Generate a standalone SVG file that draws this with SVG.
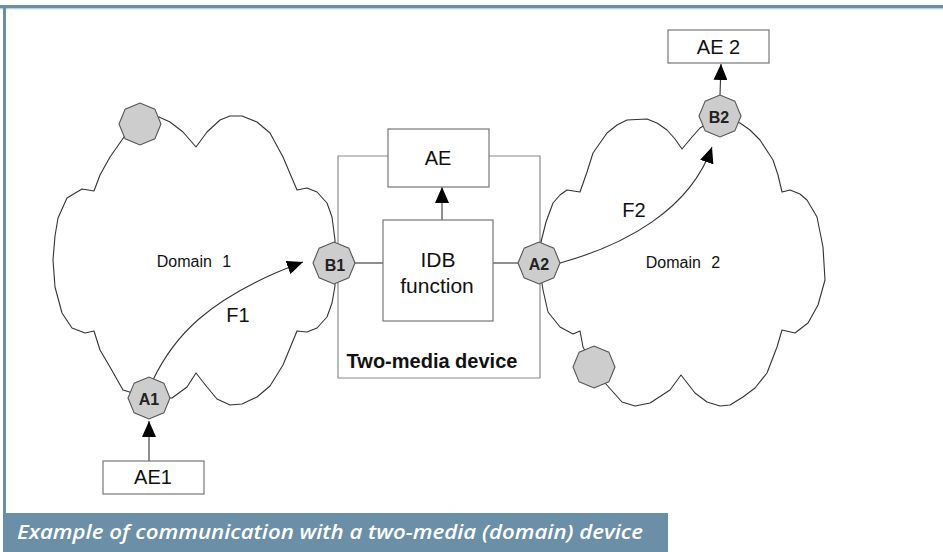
<svg xmlns="http://www.w3.org/2000/svg" xmlns:xlink="http://www.w3.org/1999/xlink" width="943" height="552" viewBox="0 0 943 552">
  <style>
    .cloud { fill: none; stroke: #333; stroke-width: 1.1; stroke-linejoin: round; }
    .frame { fill: none; stroke: #8a8a8a; stroke-width: 1.2; }
    .box { fill: #fff; stroke: #777; stroke-width: 1.2; }
    .link { fill: none; stroke: #333; stroke-width: 1.1; }
    .port { fill: #cdcdcd; stroke: #555; stroke-width: 1.1; }
    .lbl { font-family: "Liberation Sans", Arial, sans-serif; fill: #111; text-anchor: middle; }
    .big { font-size: 20px; }
    .dom { font-size: 16px; word-spacing: 6px; }
    .portlbl { font-size: 16px; font-weight: bold; fill: #222; }
    .caption { font-family: "Open Sans", "Liberation Sans", sans-serif; font-style: italic; font-weight: 600; font-size: 20px; fill: #fff; }
  </style>
  <defs>
    <marker id="arrow" markerUnits="userSpaceOnUse" markerWidth="17" markerHeight="14" refX="16" refY="7" orient="auto">
      <path d="M0,0 L16,7 L0,14 Z" fill="#000"/>
    </marker>
    <polygon id="oct" points="21,0 14.85,14.85 0,21 -14.85,14.85 -21,0 -14.85,-14.85 0,-21 14.85,-14.85"/>
  </defs>

  <rect width="943" height="552" fill="#fff"/>

  <!-- page frame -->
  <rect x="0" y="5" width="943" height="3.3" fill="#6b8fa6"/>
  <rect x="0" y="8.3" width="943" height="1" fill="#b9cad6"/>
  <rect x="3" y="5" width="3" height="547" fill="#6b8fa6"/>

  <!-- two-media device enclosure -->
  <g id="device">
    <path class="frame" d="M388,156 H338 V378 H540 V156 H489"/>
    <text class="lbl" x="432" y="368" font-size="20" font-weight="bold">Two-media device</text>
  </g>

  <!-- domain clouds -->
  <g id="domain1">
    <path class="cloud" d="M94,191 L100,175 L110,157 L124,137 L140,124 L159,117 L170,122 L183,132 L196,147 L207,132 L220,120 L230,116 L242,116 L257,122 L270,133 L283,157 L297,190 L307,188 L317,192 L327,203 L332,217 L335,240 L334,263 L335,286 L332,303 L327,317 L317,328 L307,332 L297,331 L283,365 L270,386 L257,397 L242,404 L230,405 L217,399 L207,387 L196,373 L187,387 L172,398 L149,398 L123,390 L110,367 L100,350 L94,331 L85,333 L72,328 L62,313 L55,287 L53,260 L55,236 L58,218 L67,198 L82,189 Z"/>
    <text class="lbl dom" x="194" y="267">Domain 1</text>
  </g>
  <g id="domain2">
    <path class="cloud" d="M539,263 L541,242 L546,222 L553,203 L560,195 L567,190 L580,192 L587,172 L593,153 L607,133 L617,125 L627,120 L647,119 L657,123 L667,130 L675,139 L682,149 L692,137 L700,128 L720,116 L740,123 L750,130 L760,140 L773,160 L778,175 L782,192 L790,190 L800,194 L807,200 L817,217 L823,247 L825,280 L818,305 L808,323 L795,333 L782,330 L777,347 L767,373 L755,388 L743,397 L730,405 L720,406 L707,402 L695,393 L681,375 L670,390 L650,403 L635,406 L622,402 L605,383 L594,367 L583,347 L580,331 L573,334 L560,327 L548,312 L543,290 Z"/>
    <text class="lbl dom" x="683" y="268">Domain 2</text>
  </g>

  <!-- connectors -->
  <g id="connectors">
    <line class="link" x1="355" y1="263" x2="383" y2="263"/>
    <line class="link" x1="493" y1="263" x2="518" y2="263"/>
    <line class="link" x1="442" y1="220" x2="442" y2="187" marker-end="url(#arrow)"/>
    <line class="link" x1="149" y1="461" x2="149" y2="421" marker-end="url(#arrow)"/>
    <line class="link" x1="720" y1="95" x2="721" y2="64" marker-end="url(#arrow)"/>
    <path class="link" d="M153,380 C172,340 205,298 303,262" marker-end="url(#arrow)"/>
    <path class="link" d="M560,263 C625,245 690,210 712,147" marker-end="url(#arrow)"/>
    <text class="lbl big" x="238" y="322">F1</text>
    <text class="lbl big" x="634" y="217">F2</text>
  </g>

  <!-- boxes -->
  <g id="ae">
    <rect class="box" x="388" y="129" width="101" height="58"/>
    <text class="lbl big" x="438" y="165">AE</text>
  </g>
  <g id="idb">
    <rect class="box" x="383" y="220" width="110" height="101"/>
    <text class="lbl" x="438" y="267" font-size="21">IDB</text>
    <text class="lbl" x="437" y="293" font-size="21">function</text>
  </g>
  <g id="ae1">
    <rect class="box" x="103" y="461" width="101" height="33"/>
    <text class="lbl big" x="153" y="484">AE1</text>
  </g>
  <g id="ae2">
    <rect class="box" x="668" y="30" width="101" height="33"/>
    <text class="lbl big" x="718.5" y="54">AE 2</text>
  </g>

  <!-- ports -->
  <g id="port-top1"><use xlink:href="#oct" href="#oct" class="port" x="140" y="124"/></g>
  <g id="port-b1">
    <use xlink:href="#oct" href="#oct" class="port" x="334" y="263"/>
    <text class="lbl portlbl" x="335" y="271">B1</text>
  </g>
  <g id="port-a1">
    <use xlink:href="#oct" href="#oct" class="port" x="149" y="398"/>
    <text class="lbl portlbl" x="149" y="405">A1</text>
  </g>
  <g id="port-a2">
    <use xlink:href="#oct" href="#oct" class="port" x="539" y="263"/>
    <text class="lbl portlbl" x="539" y="270">A2</text>
  </g>
  <g id="port-b2">
    <use xlink:href="#oct" href="#oct" class="port" x="720" y="116"/>
    <text class="lbl portlbl" x="719" y="123">B2</text>
  </g>
  <g id="port-bottom2"><use xlink:href="#oct" href="#oct" class="port" x="594" y="367"/></g>

  <!-- caption -->
  <g id="caption">
    <rect x="3" y="513" width="665" height="39" fill="#6b8fa6"/>
    <text class="caption" x="17" y="539" textLength="626" lengthAdjust="spacingAndGlyphs">Example of communication with a two-media (domain) device</text>
  </g>
</svg>
